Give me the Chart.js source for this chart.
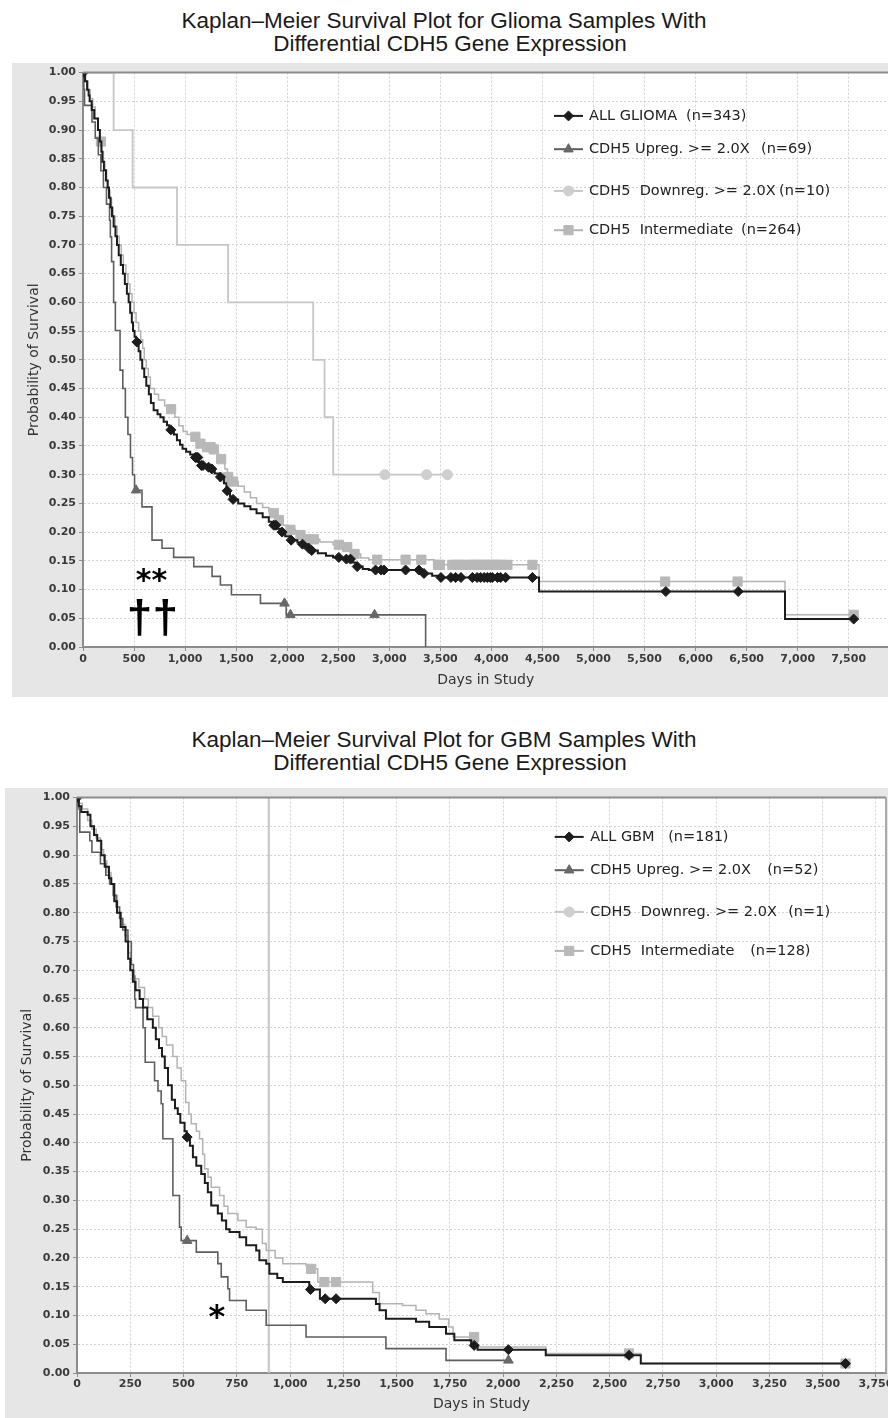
<!DOCTYPE html>
<html>
<head>
<meta charset="utf-8">
<script src="https://cdn.jsdelivr.net/npm/chart.js@4.4.1/dist/chart.umd.min.js"></script>
<style>
html, body { margin: 0; padding: 0; background: #fff; overflow: hidden; }
body { position: relative; width: 888px; height: 1418px; }
.title { position: absolute; left: 0; width: 888px; text-align: center; font-family: "Liberation Sans", Arial, sans-serif; font-size: 22.5px; line-height: 23px; color: #1a1a1a; }
canvas { position: absolute; background: #e6e6e6; }
</style>
</head>
<body>
<div class="title" style="top:9px">Kaplan–Meier Survival Plot for Glioma Samples With<br><span style="padding-left:12px">Differential CDH5 Gene Expression</span></div>
<canvas id="glioma" width="884" height="634" style="left:12px;top:63px"></canvas>

<div class="title" style="top:728px">Kaplan–Meier Survival Plot for GBM Samples With<br><span style="padding-left:12px">Differential CDH5 Gene Expression</span></div>
<canvas id="gbm" width="900" height="630" style="left:5px;top:788px"></canvas>

<script>
// survival curves, [day, probability] at each drop
const gliomaAll = [[0,1],[20,0.985],[40,0.97],[55,0.96],[65,0.95],[85,0.935],[110,0.92],[147,0.9],[165,0.88],[180,0.862],[190,0.845],[205,0.83],[225,0.812],[241,0.8],[255,0.782],[270,0.765],[284,0.75],[300,0.732],[318,0.715],[333,0.7],[350,0.682],[370,0.665],[392,0.65],[410,0.632],[430,0.615],[447,0.6],[462,0.582],[478,0.565],[490,0.55],[505,0.54],[520,0.531],[545,0.515],[562,0.5],[580,0.485],[600,0.47],[620,0.455],[645,0.44],[665,0.425],[692,0.412],[730,0.405],[758,0.4],[790,0.392],[823,0.386],[845,0.378],[890,0.37],[920,0.36],[950,0.352],[975,0.345],[1010,0.34],[1050,0.335],[1090,0.33],[1130,0.322],[1150,0.316],[1200,0.313],[1250,0.31],[1290,0.302],[1330,0.296],[1380,0.285],[1405,0.272],[1440,0.262],[1460,0.257],[1520,0.25],[1580,0.245],[1640,0.24],[1700,0.233],[1760,0.226],[1820,0.218],[1860,0.212],[1900,0.206],[1940,0.2],[1980,0.193],[2030,0.186],[2100,0.182],[2140,0.179],[2200,0.172],[2240,0.168],[2300,0.163],[2380,0.159],[2450,0.156],[2540,0.153],[2640,0.147],[2670,0.14],[2740,0.136],[2800,0.134],[3330,0.128],[3420,0.124],[3480,0.121],[4467,0.0966],[6876,0.0486],[7549,0.0486]];
const gliomaAllCensored = [0,528,860,1101,1115,1125,1160,1175,1230,1262,1346,1412,1470,1869,1890,1950,2039,2150,2212,2240,2506,2580,2620,2686,2866,2920,2948,3160,3290,3340,3506,3604,3650,3702,3814,3860,3895,3930,3961,3990,4010,4060,4091,4140,4402,5709,6418,7549];

const gliomaUp = [[0,1],[8,0.971],[15,0.943],[88,0.914],[120,0.886],[150,0.857],[175,0.829],[200,0.8],[230,0.771],[260,0.743],[268,0.714],[280,0.671],[300,0.6],[317,0.551],[363,0.482],[390,0.45],[415,0.4],[440,0.37],[465,0.33],[485,0.3],[505,0.273],[578,0.244],[676,0.186],[774,0.172],[888,0.156],[1085,0.14],[1264,0.123],[1346,0.108],[1454,0.091],[1738,0.076],[1990,0.056],[3356,0]];
const gliomaUpCensored = [520,1974,2032,2856];

const gliomaDown = [[0,1],[300,0.9],[486,0.8],[921,0.7],[1421,0.6],[2255,0.5],[2366,0.4],[2451,0.3],[3569,0.3]];
const gliomaDownCensored = [2957,3366,3569];

const gliomaMid = [[0,1],[25,0.985],[50,0.97],[70,0.955],[95,0.94],[120,0.92],[150,0.9],[170,0.88],[185,0.862],[200,0.845],[215,0.83],[232,0.812],[248,0.795],[265,0.78],[280,0.765],[295,0.75],[315,0.732],[335,0.715],[355,0.7],[375,0.682],[395,0.665],[420,0.65],[440,0.632],[460,0.615],[480,0.6],[500,0.582],[520,0.565],[545,0.55],[565,0.535],[585,0.52],[600,0.5],[620,0.485],[640,0.47],[660,0.45],[700,0.44],[740,0.43],[800,0.42],[840,0.414],[900,0.4],[940,0.385],[980,0.375],[1020,0.37],[1080,0.366],[1130,0.354],[1200,0.348],[1270,0.344],[1320,0.335],[1345,0.327],[1390,0.31],[1415,0.296],[1450,0.288],[1520,0.28],[1580,0.27],[1640,0.26],[1700,0.25],[1760,0.243],[1820,0.236],[1860,0.233],[1900,0.221],[1960,0.212],[2010,0.204],[2080,0.2],[2120,0.195],[2180,0.1875],[2320,0.183],[2450,0.178],[2560,0.174],[2620,0.168],[2650,0.162],[2720,0.155],[2800,0.152],[3440,0.143],[4467,0.114],[6876,0.056],[7549,0.056]];
const gliomaMidCensored = [175,863,1101,1150,1216,1250,1281,1353,1421,1470,1869,1918,2032,2130,2196,2261,2506,2588,2660,2882,3160,3314,3477,3496,3617,3650,3690,3731,3797,3830,3860,3900,3940,3980,4020,4060,4100,4157,4402,5702,6412,7549];

const gbmAll = [[0,1],[8,0.985],[20,0.975],[50,0.97],[63,0.95],[80,0.935],[95,0.925],[114,0.9],[130,0.88],[150,0.86],[161,0.85],[175,0.82],[188,0.8],[205,0.775],[228,0.75],[240,0.72],[250,0.7],[262,0.68],[275,0.665],[294,0.65],[310,0.635],[330,0.615],[356,0.6],[370,0.58],[385,0.565],[399,0.55],[412,0.53],[427,0.5],[445,0.475],[460,0.46],[473,0.45],[485,0.435],[505,0.42],[515,0.41],[530,0.395],[544,0.375],[560,0.36],[583,0.346],[600,0.33],[614,0.314],[630,0.291],[661,0.277],[680,0.265],[700,0.25],[716,0.245],[763,0.236],[794,0.222],[841,0.213],[856,0.196],[888,0.19],[903,0.1725],[940,0.165],[966,0.158],[1090,0.145],[1140,0.129],[1403,0.12],[1420,0.109],[1450,0.0944],[1591,0.089],[1653,0.08],[1732,0.068],[1771,0.057],[1850,0.048],[1880,0.0406],[2200,0.0307],[2646,0.0163],[3607,0.0163]];
const gbmAllCensored = [0,517,1096,1165,1216,1864,2025,2591,3607];

const gbmUp = [[0,1],[10,0.98],[13,0.94],[60,0.925],[70,0.905],[110,0.885],[135,0.865],[153,0.85],[170,0.83],[184,0.81],[200,0.79],[215,0.77],[239,0.75],[255,0.71],[265,0.69],[271,0.65],[275,0.635],[310,0.6],[320,0.54],[364,0.508],[380,0.49],[395,0.468],[403,0.407],[450,0.3085],[481,0.2535],[489,0.23],[560,0.21],[661,0.19],[677,0.167],[708,0.1465],[716,0.126],[794,0.109],[888,0.083],[1075,0.0625],[1450,0.0424],[1732,0.022],[2025,0.022]];
const gbmUpCensored = [517,2025];

const gbmDown = [];
const gbmDownCensored = [];

const gbmMid = [[0,1],[10,0.99],[25,0.98],[50,0.96],[70,0.945],[90,0.93],[110,0.91],[125,0.89],[140,0.87],[160,0.85],[172,0.83],[190,0.8],[205,0.78],[225,0.76],[240,0.73],[252,0.7],[270,0.685],[290,0.67],[317,0.65],[335,0.635],[355,0.62],[384,0.6],[400,0.585],[420,0.57],[450,0.55],[470,0.53],[489,0.508],[510,0.47],[525,0.45],[536,0.433],[560,0.42],[575,0.407],[590,0.38],[599,0.355],[615,0.34],[630,0.323],[669,0.3085],[690,0.29],[708,0.277],[755,0.265],[794,0.2535],[841,0.25],[870,0.225],[888,0.213],[930,0.2],[966,0.19],[1075,0.187],[1095,0.181],[1130,0.158],[1388,0.14],[1419,0.1205],[1528,0.1175],[1591,0.109],[1638,0.103],[1700,0.094],[1745,0.08],[1765,0.0625],[1880,0.045],[2200,0.034],[2646,0.0165],[3607,0.0165]];
const gbmMidCensored = [1099,1161,1216,1864,2591,3607];

// grey cursor line in the GBM plot
const gbmCursorDay = 900;

// tick values on the day axes
const gliomaDayTicks = [0,500,1000,1500,2000,2500,3000,3500,4000,4500,5000,5500,6000,6500,7000,7500];
const gbmDayTicks = [0,250,500,750,1000,1250,1500,1750,2000,2250,2500,2750,3000,3250,3500,3750];

const gliomaLabels = ['ALL GLIOMA', 'CDH5 Upreg. >= 2.0X', 'CDH5  Downreg. >= 2.0X', 'CDH5  Intermediate'];
const gliomaCounts = ['(n=343)', '(n=69)', '(n=10)', '(n=264)'];
const gbmLabels = ['ALL GBM', 'CDH5 Upreg. >= 2.0X', 'CDH5  Downreg. >= 2.0X', 'CDH5  Intermediate'];
const gbmCounts = ['(n=181)', '(n=52)', '(n=1)', '(n=128)'];

const ALL_COL = '#1c1c1c', UP_COL = '#5e5e5e', DOWN_COL = '#c6c6c6', MID_COL = '#b3b3b3';

Chart.defaults.font.family = '"DejaVu Sans", sans-serif';
Chart.defaults.color = '#333';

/**
 * survival value of a step curve on a given day
 */
function survAt(steps, day) {
	var s = 1;
	for (var i = 0; i < steps.length; i++) {
		if (steps[i][0] <= day) s = steps[i][1];
	}
	return s;
}

function stepLine(steps, color, width) {
	return {
		data: steps.map(p => ({x: p[0], y: p[1]})),
		stepped: true,
		borderColor: color,
		borderWidth: width,
		pointRadius: 0,
		fill: false
	};
}

function censorMarks(steps, days, style, color, radius) {
	return {
		data: days.map(d => ({x: d, y: survAt(steps, d)})),
		showLine: false,
		pointStyle: style,
		pointRadius: radius,
		pointBackgroundColor: color,
		pointBorderColor: color,
		pointBorderWidth: 1
	};
}

// white plot area + top/right frame
const framePlugin = {
	id: 'kmFrame',
	beforeDraw(chart) {
		const a = chart.chartArea, ctx = chart.ctx;
		ctx.save();
		ctx.fillStyle = '#fff';
		ctx.fillRect(a.left, a.top, a.right - a.left, a.bottom - a.top);
		ctx.restore();
	},
	afterDraw(chart, args, opts) {
		const a = chart.chartArea, ctx = chart.ctx;
		ctx.save();
		ctx.strokeStyle = '#8c8c8c';
		ctx.lineWidth = 2;
		ctx.beginPath();
		ctx.moveTo(a.left, a.top);
		ctx.lineTo(a.right, a.top);
		ctx.stroke();
		if (opts.right) {
			ctx.strokeStyle = '#a8a8a8';
			ctx.beginPath();
			ctx.moveTo(a.right, a.top);
			ctx.lineTo(a.right, a.bottom);
			ctx.stroke();
		}
		ctx.restore();
	}
};

// legend inside the plot, line + marker + text
const legendPlugin = {
	id: 'kmLegend',
	afterDraw(chart, args, opts) {
		const a = chart.chartArea, ctx = chart.ctx;
		ctx.save();
		opts.items.forEach((it, i) => {
			const x = a.left + opts.x, y = a.top + opts.ys[i];
			ctx.strokeStyle = it.line;
			ctx.lineWidth = 2;
			ctx.beginPath();
			ctx.moveTo(x, y);
			ctx.lineTo(x + 29, y);
			ctx.stroke();
			ctx.fillStyle = it.color;
			ctx.strokeStyle = it.color;
			ctx.lineWidth = 1;
			Chart.helpers.drawPoint(ctx, {pointStyle: it.style, radius: it.radius, rotation: 0, borderWidth: 1}, x + 14.5, y);
			ctx.fillStyle = '#222';
			ctx.font = '14.5px "DejaVu Sans"';
			ctx.textBaseline = 'middle';
			ctx.textAlign = 'left';
			ctx.fillText(it.label, x + opts.textDx, y);
			ctx.fillText(it.count, x + opts.textDx + it.countDx, y);
		});
		ctx.restore();
	}
};

// significance marks written on the plot
const notesPlugin = {
	id: 'kmNotes',
	afterDraw(chart, args, opts) {
		const ctx = chart.ctx;
		ctx.save();
		ctx.fillStyle = '#000';
		ctx.textAlign = 'center';
		ctx.textBaseline = 'alphabetic';
		opts.notes.forEach(n => {
			ctx.font = n.font;
			ctx.fillText(n.text, chart.scales.x.getPixelForValue(n.x), chart.scales.y.getPixelForValue(n.y));
		});
		ctx.restore();
	}
};

function axisSet(xmax, dayTicks, yWidth, xHeight, tickPad, yTitlePad, xTitlePad) {
	const grid = {color: '#d2d2d2', lineWidth: 1, tickLength: 4, tickColor: '#8c8c8c', tickBorderDash: []};
	const border = {color: '#8c8c8c', width: 2, dash: [2, 2]};
	const tickFont = {size: 11, weight: 'bold'};
	return {
		x: {
			type: 'linear', min: 0, max: xmax, bounds: 'data',
			ticks: {autoSkip: false, maxRotation: 0, padding: tickPad, font: tickFont, color: '#3a3a3a',
				callback: v => v.toLocaleString('en-US')},
			afterBuildTicks: s => { s.ticks = dayTicks.map(v => ({value: v})); },
			grid: grid, border: border,
			title: {display: true, text: 'Days in Study', font: {size: 14}, color: '#333', padding: {top: 0, bottom: xTitlePad}},
			afterFit: s => { s.height = xHeight; }
		},
		y: {
			min: 0, max: 1,
			ticks: {stepSize: 0.05, autoSkip: false, padding: 3, font: tickFont, color: '#3a3a3a',
				callback: v => v.toFixed(2)},
			grid: grid, border: border,
			title: {display: true, text: 'Probability of Survival', font: {size: 14}, color: '#333', padding: {top: yTitlePad, bottom: 0}},
			afterFit: s => { s.width = yWidth; }
		}
	};
}

function legendItems(labels, counts, countDx) {
	const styles = [['rectRot', ALL_COL, ALL_COL, 5], ['triangle', '#686868', UP_COL, 5.5], ['circle', '#cfcfcf', DOWN_COL, 5], ['rect', '#b8b8b8', MID_COL, 6.5]];
	return labels.map((l, i) => ({label: l, count: counts[i], countDx: countDx[i], style: styles[i][0], color: styles[i][1], line: styles[i][2], radius: styles[i][3]}));
}

function makeKmChart(id, sets, opts) {
	const ctx = document.getElementById(id).getContext('2d');
	const datasets = [
		censorMarks(sets.all, sets.allC, 'rectRot', ALL_COL, 5),
		stepLine(sets.all, ALL_COL, 2),
		censorMarks(sets.up, sets.upC, 'triangle', '#686868', 5.5),
		stepLine(sets.up, UP_COL, 1.6),
		censorMarks(sets.mid, sets.midC, 'rect', '#b8b8b8', 6.5),
		stepLine(sets.mid, MID_COL, 1.5),
		censorMarks(sets.down, sets.downC, 'circle', '#cfcfcf', 5),
		stepLine(sets.down, DOWN_COL, 1.8)
	];
	if (sets.cursor != null) {
		datasets.push({data: [{x: sets.cursor, y: 0}, {x: sets.cursor, y: 1}], borderColor: '#c4c4c4', borderWidth: 2, pointRadius: 0});
	}
	return new Chart(ctx, {
		type: 'line',
		data: {datasets: datasets},
		options: {
			responsive: false,
			animation: false,
			events: [],
			layout: {padding: {top: 9, left: 0, right: opts.padRight, bottom: 0}},
			scales: axisSet(opts.xmax, opts.dayTicks, opts.yWidth, opts.xHeight, opts.tickPad, opts.yTitlePad, opts.xTitlePad),
			plugins: {
				legend: {display: false},
				tooltip: {enabled: false},
				kmFrame: {right: opts.frameRight},
				kmLegend: opts.legend,
				kmNotes: {notes: opts.notes}
			}
		},
		plugins: [framePlugin, legendPlugin, notesPlugin]
	});
}

makeKmChart('glioma', {
	all: gliomaAll, allC: gliomaAllCensored,
	up: gliomaUp, upC: gliomaUpCensored,
	down: gliomaDown, downC: gliomaDownCensored,
	mid: gliomaMid, midC: gliomaMidCensored
}, {
	xmax: 7890, dayTicks: gliomaDayTicks, yWidth: 71, xHeight: 50, tickPad: 2, yTitlePad: 13.6, xTitlePad: 8.6,
	padRight: 0, frameRight: false,
	legend: {x: 471, textDx: 35, ys: [43.3, 76.6, 118.3, 157.6], items: legendItems(gliomaLabels, gliomaCounts, [97, 172, 190, 152])},
	notes: [
		{text: '**', x: 670, y: 0.1, font: 'bold 30px "DejaVu Sans"'},
		{text: '††', x: 680, y: 0.024, font: 'bold 46px "Liberation Sans"'}
	]
});

makeKmChart('gbm', {
	all: gbmAll, allC: gbmAllCensored,
	up: gbmUp, upC: gbmUpCensored,
	down: gbmDown, downC: gbmDownCensored,
	mid: gbmMid, midC: gbmMidCensored,
	cursor: gbmCursorDay
}, {
	xmax: 3797, dayTicks: gbmDayTicks, yWidth: 72, xHeight: 45, tickPad: 1, yTitlePad: 14, xTitlePad: 5.3,
	padRight: 19, frameRight: true,
	legend: {x: 477.7, textDx: 35.5, ys: [39.3, 72.6, 114.3, 153.3], items: legendItems(gbmLabels, gbmCounts, [78, 177, 198, 160])},
	notes: [
		{text: '*', x: 657, y: 0.08, font: 'bold 32px "DejaVu Sans"'}
	]
});
</script>
</body>
</html>
